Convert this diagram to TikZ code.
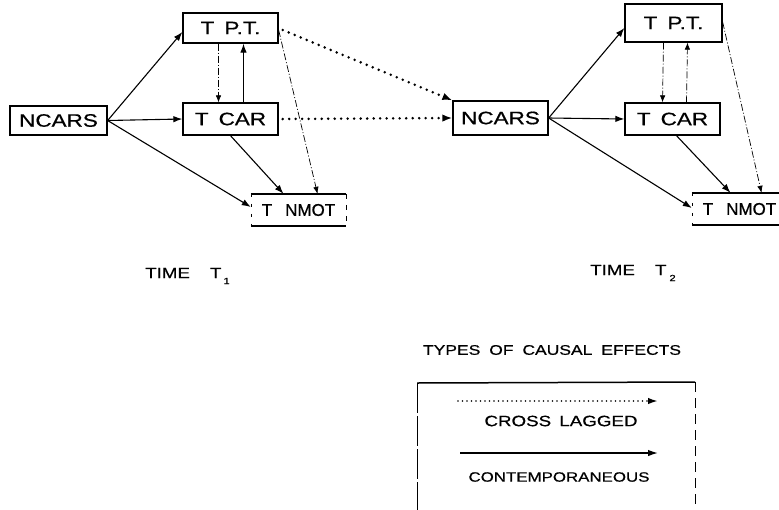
\documentclass[tikz,border=0pt]{standalone}
\usepackage{fontspec}
\setmainfont{Liberation Sans}[FakeStretch=1.25,FakeBold=0.6]
\newfontfamily\narrowfont{Liberation Sans}[FakeBold=0.6]
\usetikzlibrary{arrows.meta,calc}
\begin{document}
\begin{tikzpicture}[x=1pt,y=-1pt,
  box/.style={draw,line width=1.3pt,inner sep=0pt,font=\fontsize{18}{18}\selectfont},
  openbox/.style={inner sep=0pt,font=\narrowfont\fontsize{17}{17}\selectfont},
  conn/.style={line width=1.1pt,-{Latex[length=9pt,width=6.5pt]}},
  dashdot/.style={line width=0.7pt,dash pattern=on 7pt off 2pt on 1pt off 2pt,-{Latex[length=7pt,width=5.5pt]}},
  lag/.style={line width=2.8pt,line cap=round,dash pattern=on 0pt off 6.5pt,-{Latex[length=10pt,width=7.5pt]}},
  lbl/.style={inner sep=0pt,font=\fontsize{14}{14}\selectfont}
]
\fill[white] (0,0) rectangle (779,509);
\clip (0,0) rectangle (779,509);

% ---- time 1
\node[box,minimum width=97pt,minimum height=29pt] (ncars1) at (58.5,120.5) {NCARS};
\node[box,minimum width=95pt,minimum height=30pt] (tpt1) at (230.5,28) {T\hspace{10pt}P.T.};
\node[box,minimum width=95pt,minimum height=32pt] (tcar1) at (230.5,119) {T\hspace{10pt}CAR};
\node[openbox,minimum width=95pt,minimum height=32pt] (tnmot1) at (298.5,210) {T\hspace{13pt}NMOT};

% ---- time 2
\node[box,minimum width=95pt,minimum height=34pt] (ncars2) at (500.5,118) {NCARS};
\node[box,minimum width=97pt,minimum height=38pt] (tpt2) at (673.5,23) {T\hspace{10pt}P.T.};
\node[box,minimum width=95pt,minimum height=32pt] (tcar2) at (672.5,119) {T\hspace{10pt}CAR};
\node[openbox,minimum width=95pt,minimum height=32pt] (tnmot2) at (739.5,209) {T\hspace{13pt}NMOT};

% T NMOT borders: solid top/bottom, broken sides
\foreach \n in {tnmot1,tnmot2}{
  \draw[line width=1.5pt] (\n.north west) -- (\n.north east);
  \draw[line width=1.5pt] (\n.south west) -- (\n.south east);
  \draw[line width=0.6pt,dash pattern=on 3pt off 7pt] (\n.north west) -- (\n.south west);
  \draw[line width=0.6pt,dash pattern=on 5pt off 6pt] (\n.north east) -- (\n.south east);
}

% ---- contemporaneous effects, time 1
\draw[conn] (ncars1.east) -- ($(tpt1.west)+(0,4)$);
\draw[conn] (ncars1.east) -- (tcar1.west);
\draw[conn] (ncars1.east) -- ($(tnmot1.west)+(0,-3)$);
\draw[dashdot] ($(tpt1.south)+(-12,0)$) -- ($(tcar1.north)+(-12,0)$);
\draw[conn] ($(tcar1.north)+(13,0)$) -- ($(tpt1.south)+(13,0)$);
\draw[conn] ($(tcar1.south)+(0,0)$) -- ($(tnmot1.north)+(-15,0)$);
\draw[dashdot] ($(tpt1.east)+(0,2)$) -- ($(tnmot1.north)+(19,0)$);

% ---- cross lagged
\draw[lag] ($(tpt1.east)+(4,2)$) -- (ncars2.north west);
\draw[lag] ($(tcar1.east)+(4,0)$) -- (ncars2.west);

% ---- contemporaneous effects, time 2
\draw[conn] (ncars2.east) -- ($(tpt2.west)+(0,5)$);
\draw[conn] (ncars2.east) -- (tcar2.west);
\draw[conn] (ncars2.east) -- ($(tnmot2.west)+(0,-1)$);
\draw[dashdot] ($(tpt2.south)+(-10,0)$) -- ($(tcar2.north)+(-10,0)$);
\draw[dashdot] ($(tcar2.north)+(14,0)$) -- ($(tpt2.south)+(14,0)$);
\draw[conn] ($(tcar2.south)+(4,0)$) -- ($(tnmot2.north)+(-9,0)$);
\draw[dashdot] ($(tpt2.east)+(0,-1)$) -- ($(tnmot2.north)+(22,0)$);

% ---- time labels
\node[lbl,anchor=west,font=\fontsize{15}{15}\selectfont] (time1) at (145,276) {TIME\hspace{20pt}T\hspace{2pt}\raisebox{-6pt}{\fontsize{9}{9}\selectfont 1}};
\node[lbl,anchor=west,font=\fontsize{15}{15}\selectfont] (time2) at (590,273) {TIME\hspace{20pt}T\hspace{3pt}\raisebox{-6pt}{\fontsize{9}{9}\selectfont 2}};

% ---- legend
\node[lbl] (legtitle) at (552,350) {TYPES\hspace{4pt} OF\hspace{4pt} CAUSAL\hspace{4pt} EFFECTS};
\draw[line width=1.5pt] (417,383) -- (695,382);
\draw[line width=0.7pt,dash pattern=on 30pt off 3pt] (417,383) -- (417,512);
\draw[line width=0.7pt,dash pattern=on 10pt off 6pt] (695,382) -- (695,512);
\coordinate (lagA) at (458,401);
\coordinate (lagB) at (658,401);
\coordinate (conA) at (460,453);
\coordinate (conB) at (658,453);
\draw[lag,line width=1.8pt,dash pattern=on 0pt off 4.5pt,-{Latex[length=10pt,width=6.5pt]}] (lagA) -- (lagB);
\node[lbl,font=\fontsize{15}{15}\selectfont] (laglbl) at (561,421) {CROSS\hspace{3pt} LAGGED};
\draw[conn,line width=1.4pt,-{Latex[length=10pt,width=6.5pt]}] (conA) -- (conB);
\node[lbl,font=\fontsize{13.5}{13.5}\selectfont] (conlbl) at (559,477) {CONTEMPORANEOUS};
\end{tikzpicture}
\end{document}
